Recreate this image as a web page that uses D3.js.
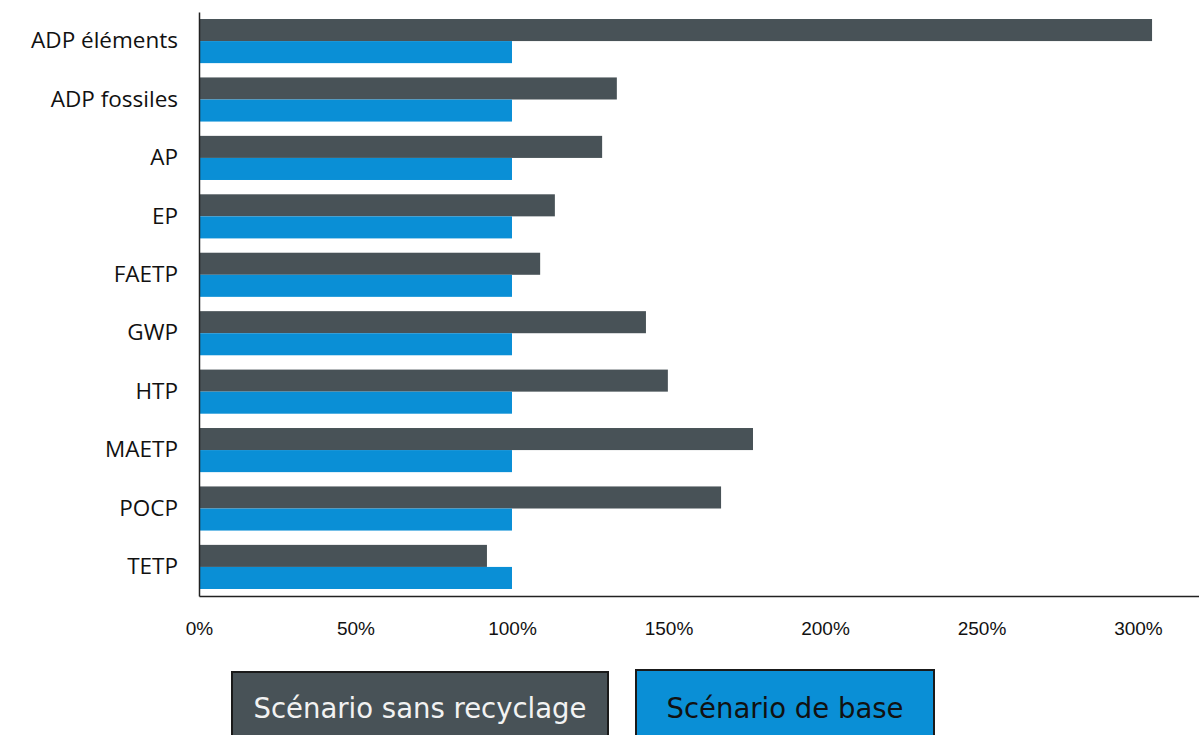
<!DOCTYPE html>
<html>
<head>
<meta charset="utf-8">
<script src="https://cdn.jsdelivr.net/npm/d3@7"></script>
<style>
  body { margin: 0; background: #fff; }
  svg { display: block; }
</style>
</head>
<body>
<div id="chart"></div>
<script>
// data (percent of base scenario)
var categories = ['ADP éléments', 'ADP fossiles', 'AP', 'EP', 'FAETP', 'GWP', 'HTP', 'MAETP', 'POCP', 'TETP'];
var sansRecyclage = [304.5, 133.5, 128.8, 113.7, 109, 142.8, 149.8, 177, 166.8, 92];
var scenarioBase = [100, 100, 100, 100, 100, 100, 100, 100, 100, 100];
var tickValues = [0, 50, 100, 150, 200, 250, 300];
var seriesNames = ['Scénario sans recyclage', 'Scénario de base'];
var colors = ['#485257', '#0a8fd6'];

var W = 1199, H = 735;
var margin = {top: 12, right: 0, bottom: 139, left: 199};
var width = W - margin.left - margin.right,
    height = H - margin.top - margin.bottom;

var svg = d3.select('#chart').append('svg')
  .attr('width', W)
  .attr('height', H);

var g = svg.append('g')
  .attr('transform', 'translate(' + margin.left + ',' + margin.top + ')');

var x = d3.scaleLinear().domain([0, 319.5]).range([0, width]);

var y = d3.scaleBand()
  .domain(categories)
  .range([0, height])
  .paddingInner(0.245)
  .paddingOuter(0.12);

var sub = d3.scaleBand()
  .domain([0, 1])
  .range([0, y.bandwidth()]);

var rows = categories.map(function(c, i) {
  return {cat: c, vals: [sansRecyclage[i], scenarioBase[i]]};
});

// bars
var grp = g.selectAll('.row')
  .data(rows)
  .enter().append('g')
    .attr('class', 'row')
    .attr('transform', function(d) { return 'translate(0,' + y(d.cat) + ')'; });

grp.selectAll('rect')
  .data(function(d) { return d.vals.map(function(v, k) { return {k: k, v: v}; }); })
  .enter().append('rect')
    .attr('x', x(0))
    .attr('y', function(d) { return sub(d.k); })
    .attr('height', sub.bandwidth())
    .attr('width', function(d) { return x(d.v) - x(0); })
    .attr('fill', function(d) { return colors[d.k]; });

// y axis (labels only + line)
var yAxis = g.append('g')
  .call(d3.axisLeft(y).tickSize(0).tickPadding(21));
yAxis.select('.domain').attr('stroke', '#222').attr('stroke-width', 1.5);
yAxis.selectAll('text')
  .attr('font-family', '"Open Sans", sans-serif')
  .attr('font-size', '22.5px')
  .attr('fill', '#111');

// x axis
var xAxis = g.append('g')
  .attr('transform', 'translate(0,' + height + ')')
  .call(d3.axisBottom(x).tickValues(tickValues).tickSize(0).tickPadding(26)
    .tickFormat(function(d) { return d + '%'; }));
xAxis.select('.domain').attr('stroke', '#222').attr('stroke-width', 1.5);
xAxis.selectAll('text')
  .attr('font-family', '"Liberation Sans", Arial, sans-serif')
  .attr('font-size', '19px')
  .attr('fill', '#111');

// legend boxes
var legend = [
  {name: seriesNames[0], x: 232, y: 672, w: 376, fill: colors[0], text: '#f2f2f2'},
  {name: seriesNames[1], x: 636, y: 670, w: 298, fill: colors[1], text: '#111'}
];
var lg = svg.selectAll('.legend')
  .data(legend)
  .enter().append('g')
    .attr('class', 'legend');
lg.append('rect')
  .attr('x', function(d) { return d.x; })
  .attr('y', function(d) { return d.y; })
  .attr('width', function(d) { return d.w; })
  .attr('height', 80)
  .attr('fill', function(d) { return d.fill; })
  .attr('stroke', '#1a1a1a')
  .attr('stroke-width', 2);
lg.append('text')
  .attr('x', function(d) { return d.x + d.w / 2; })
  .attr('y', 718)
  .attr('text-anchor', 'middle')
  .attr('font-family', '"DejaVu Sans", Verdana, sans-serif')
  .attr('font-size', '27.5px')
  .attr('fill', function(d) { return d.text; })
  .text(function(d) { return d.name; });
</script>
</body>
</html>
